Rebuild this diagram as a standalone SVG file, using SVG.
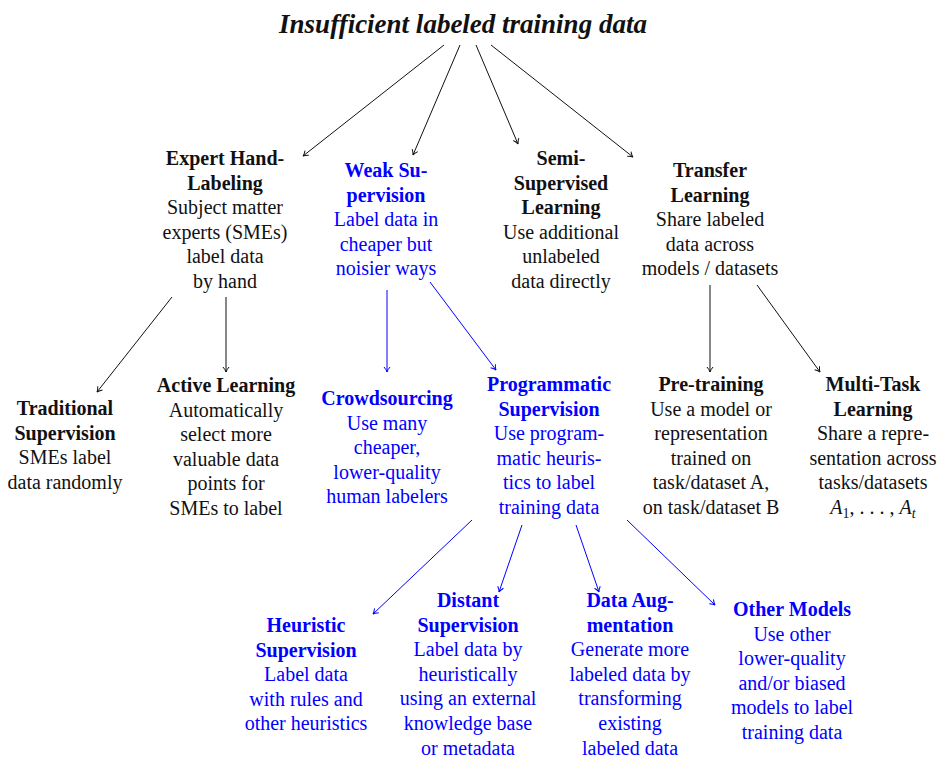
<svg xmlns="http://www.w3.org/2000/svg" width="950" height="778" viewBox="0 0 950 778">
<style>
text{font-family:"Liberation Serif","Times New Roman",serif;font-size:20px;text-anchor:middle;fill:#111}
.b{font-weight:bold}
.blue{fill:#0000ff}
.title{font-size:27px;font-weight:bold;font-style:italic}
.k{stroke:#111;stroke-width:1;fill:none;marker-end:url(#ak)}
.u{stroke:#0000ff;stroke-width:1;fill:none;marker-end:url(#au)}
</style>
<defs>
<marker id="ak" viewBox="-6 -4 8 8" markerWidth="8" markerHeight="8" refX="0" refY="0" orient="auto" markerUnits="userSpaceOnUse">
<path d="M-5,-3 Q-2,-0.5 0,0 Q-2,0.5 -5,3" fill="none" stroke="#111" stroke-width="1"/>
</marker>
<marker id="au" viewBox="-6 -4 8 8" markerWidth="8" markerHeight="8" refX="0" refY="0" orient="auto" markerUnits="userSpaceOnUse">
<path d="M-5,-3 Q-2,-0.5 0,0 Q-2,0.5 -5,3" fill="none" stroke="#0000ff" stroke-width="1"/>
</marker>
</defs>
<rect width="950" height="778" fill="#fff"/>

<g id="title"><text class="title" x="463" y="33">Insufficient labeled training data</text></g>

<g id="connectors">
<line class="k" x1="444" y1="45" x2="303" y2="156"/>
<line class="k" x1="460" y1="45" x2="413" y2="155"/>
<line class="k" x1="476" y1="45" x2="518" y2="144"/>
<line class="k" x1="491" y1="45" x2="633" y2="157"/>
<line class="k" x1="172" y1="297" x2="97" y2="392"/>
<line class="k" x1="226" y1="297" x2="226" y2="372"/>
<line class="u" x1="387" y1="290" x2="387" y2="372"/>
<line class="u" x1="430" y1="282" x2="496" y2="370"/>
<line class="k" x1="710" y1="285" x2="710" y2="372"/>
<line class="k" x1="757" y1="285" x2="820" y2="372"/>
<line class="u" x1="472" y1="520" x2="373" y2="614"/>
<line class="u" x1="522" y1="525" x2="499" y2="592"/>
<line class="u" x1="576" y1="525" x2="599" y2="592"/>
<line class="u" x1="627" y1="520" x2="715" y2="605"/>
</g>

<g id="expert">
<text x="225" y="165"><tspan class="b">Expert Hand-</tspan><tspan class="b" x="225" dy="24.6">Labeling</tspan><tspan x="225" dy="24.6">Subject matter</tspan><tspan x="225" dy="24.6">experts (SMEs)</tspan><tspan x="225" dy="24.6">label data</tspan><tspan x="225" dy="24.6">by hand</tspan></text>
</g>
<g id="weak">
<text class="blue" x="386" y="177"><tspan class="b">Weak Su-</tspan><tspan class="b" x="386" dy="24.6">pervision</tspan><tspan x="386" dy="24.6">Label data in</tspan><tspan x="386" dy="24.6">cheaper but</tspan><tspan x="386" dy="24.6">noisier ways</tspan></text>
</g>
<g id="semi">
<text x="561" y="165"><tspan class="b">Semi-</tspan><tspan class="b" x="561" dy="24.6">Supervised</tspan><tspan class="b" x="561" dy="24.6">Learning</tspan><tspan x="561" dy="24.6">Use additional</tspan><tspan x="561" dy="24.6">unlabeled</tspan><tspan x="561" dy="24.6">data directly</tspan></text>
</g>
<g id="transfer">
<text x="710" y="177"><tspan class="b">Transfer</tspan><tspan class="b" x="710" dy="24.6">Learning</tspan><tspan x="710" dy="24.6">Share labeled</tspan><tspan x="710" dy="24.6">data across</tspan><tspan x="710" dy="24.6">models / datasets</tspan></text>
</g>

<g id="traditional">
<text x="65" y="415"><tspan class="b">Traditional</tspan><tspan class="b" x="65" dy="24.6">Supervision</tspan><tspan x="65" dy="24.6">SMEs label</tspan><tspan x="65" dy="24.6">data randomly</tspan></text>
</g>
<g id="active">
<text x="226" y="392"><tspan class="b">Active Learning</tspan><tspan x="226" dy="24.6">Automatically</tspan><tspan x="226" dy="24.6">select more</tspan><tspan x="226" dy="24.6">valuable data</tspan><tspan x="226" dy="24.6">points for</tspan><tspan x="226" dy="24.6">SMEs to label</tspan></text>
</g>
<g id="crowd">
<text class="blue" x="387" y="405"><tspan class="b">Crowdsourcing</tspan><tspan x="387" dy="24.6">Use many</tspan><tspan x="387" dy="24.6">cheaper,</tspan><tspan x="387" dy="24.6">lower-quality</tspan><tspan x="387" dy="24.6">human labelers</tspan></text>
</g>
<g id="programmatic">
<text class="blue" x="549" y="391"><tspan class="b">Programmatic</tspan><tspan class="b" x="549" dy="24.6">Supervision</tspan><tspan x="549" dy="24.6">Use program-</tspan><tspan x="549" dy="24.6">matic heuris-</tspan><tspan x="549" dy="24.6">tics to label</tspan><tspan x="549" dy="24.6">training data</tspan></text>
</g>
<g id="pretraining">
<text x="711" y="391"><tspan class="b">Pre-training</tspan><tspan x="711" dy="24.6">Use a model or</tspan><tspan x="711" dy="24.6">representation</tspan><tspan x="711" dy="24.6">trained on</tspan><tspan x="711" dy="24.6">task/dataset A,</tspan><tspan x="711" dy="24.6">on task/dataset B</tspan></text>
</g>
<g id="multitask">
<text x="873" y="391"><tspan class="b">Multi-Task</tspan><tspan class="b" x="873" dy="24.6">Learning</tspan><tspan x="873" dy="24.6">Share a repre-</tspan><tspan x="873" dy="24.6">sentation across</tspan><tspan x="873" dy="24.6">tasks/datasets</tspan></text>
<text x="873" y="514"><tspan font-style="italic">A</tspan><tspan font-size="14" dy="4">1</tspan><tspan dy="-4">, . . . , </tspan><tspan font-style="italic">A</tspan><tspan font-style="italic" font-size="14" dy="4">t</tspan></text>
</g>

<g id="heuristic">
<text class="blue" x="306" y="632"><tspan class="b">Heuristic</tspan><tspan class="b" x="306" dy="24.6">Supervision</tspan><tspan x="306" dy="24.6">Label data</tspan><tspan x="306" dy="24.6">with rules and</tspan><tspan x="306" dy="24.6">other heuristics</tspan></text>
</g>
<g id="distant">
<text class="blue" x="468" y="607"><tspan class="b">Distant</tspan><tspan class="b" x="468" dy="24.6">Supervision</tspan><tspan x="468" dy="24.6">Label data by</tspan><tspan x="468" dy="24.6">heuristically</tspan><tspan x="468" dy="24.6">using an external</tspan><tspan x="468" dy="24.6">knowledge base</tspan><tspan x="468" dy="24.6">or metadata</tspan></text>
</g>
<g id="augmentation">
<text class="blue" x="630" y="607"><tspan class="b">Data Aug-</tspan><tspan class="b" x="630" dy="24.6">mentation</tspan><tspan x="630" dy="24.6">Generate more</tspan><tspan x="630" dy="24.6">labeled data by</tspan><tspan x="630" dy="24.6">transforming</tspan><tspan x="630" dy="24.6">existing</tspan><tspan x="630" dy="24.6">labeled data</tspan></text>
</g>
<g id="othermodels">
<text class="blue" x="792" y="616"><tspan class="b">Other Models</tspan><tspan x="792" dy="24.6">Use other</tspan><tspan x="792" dy="24.6">lower-quality</tspan><tspan x="792" dy="24.6">and/or biased</tspan><tspan x="792" dy="24.6">models to label</tspan><tspan x="792" dy="24.6">training data</tspan></text>
</g>
</svg>
